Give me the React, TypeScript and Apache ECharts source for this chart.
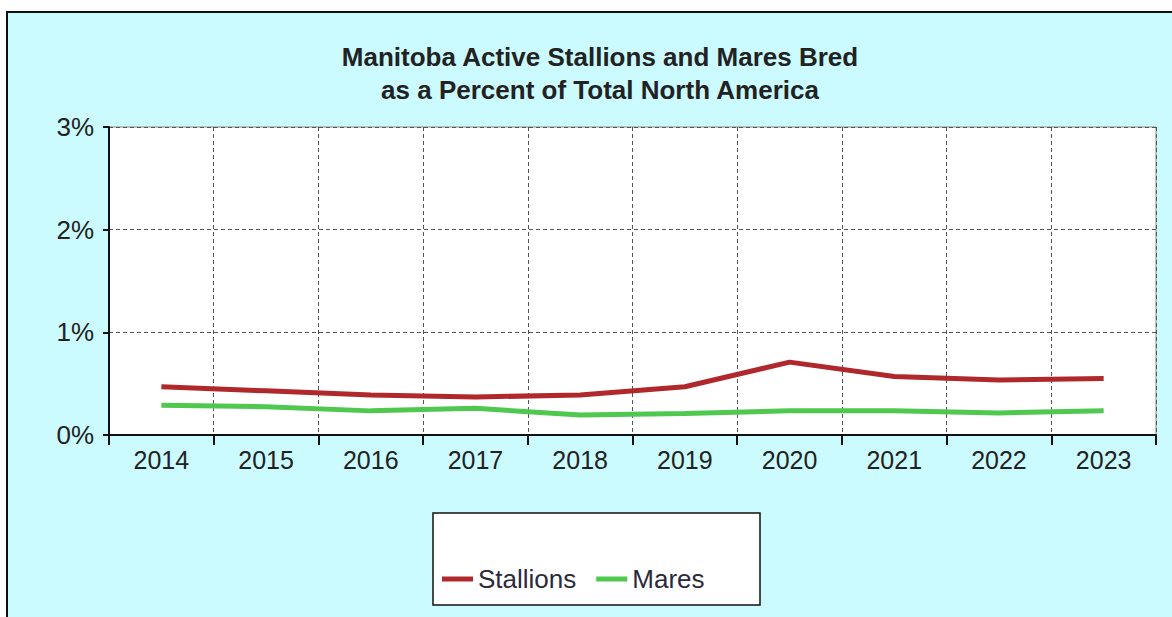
import React, { useEffect, useRef } from "react";
import * as echarts from "echarts";

const years = ["2014", "2015", "2016", "2017", "2018", "2019", "2020", "2021", "2022", "2023"];
const stallions = [0.47, 0.43, 0.39, 0.37, 0.39, 0.47, 0.71, 0.57, 0.535, 0.55];
const mares = [0.29, 0.275, 0.235, 0.26, 0.195, 0.21, 0.235, 0.235, 0.215, 0.235];
const yTicks = [0, 1, 2, 3];
const titleLines = ["Manitoba Active Stallions and Mares Bred", "as a Percent of Total North America"];

const FONT = "'Liberation Sans', Arial, sans-serif";

export default function App() {
  const ref = useRef<HTMLDivElement>(null);
  useEffect(() => {
    if (!ref.current) return;
    const chart = echarts.init(ref.current, undefined, { renderer: "svg" });
    chart.setOption({
      animation: false,
      backgroundColor: "#ffffff",
      textStyle: { fontFamily: FONT },
      graphic: [
        {
          type: "rect",
          z: -10,
          shape: { x: 7, y: 12, width: 1200, height: 700 },
          style: { fill: "#cbfbfe", stroke: "#111", lineWidth: 2 },
        },
        {
          type: "rect",
          z: 1,
          shape: { x: 433, y: 513, width: 327, height: 92 },
          style: { fill: "#ffffff", stroke: "#111", lineWidth: 1.5 },
        },
      ],
      title: {
        text: titleLines.join("\n"),
        left: 595,
        textAlign: "center",
        top: 35,
        textStyle: { fontFamily: FONT, fontSize: 26, fontWeight: "bold", color: "#222", lineHeight: 33 },
      },
      legend: {
        left: 437,
        top: 561,
        itemWidth: 31,
        itemHeight: 5,
        itemGap: 20,
        icon: "rect",
        textStyle: { fontFamily: FONT, fontSize: 26, color: "#2a2a3a", padding: [2, 0, 0, 0] },
        data: ["Stallions", "Mares"],
      },
      grid: {
        left: 109,
        top: 127,
        right: 16,
        bottom: 182,
        show: true,
        backgroundColor: "#ffffff",
        borderColor: "#888",
        borderWidth: 1,
      },
      xAxis: {
        type: "category",
        data: years,
        boundaryGap: true,
        axisLine: { lineStyle: { color: "#111", width: 2 } },
        axisTick: { show: true, length: 10, interval: 0, lineStyle: { color: "#111", width: 2 } },
        axisLabel: { fontFamily: FONT, fontSize: 25, color: "#222", margin: 12, interval: 0 },
        splitLine: { show: true, interval: 0, lineStyle: { color: "#555", width: 1, type: [4, 3] } },
      },
      yAxis: {
        type: "value",
        min: yTicks[0],
        max: yTicks[yTicks.length - 1],
        interval: 1,
        axisLine: { show: true, lineStyle: { color: "#111", width: 2 } },
        axisTick: { show: true, length: 6, lineStyle: { color: "#111", width: 2 } },
        axisLabel: { fontFamily: FONT, fontSize: 26, color: "#222", margin: 15, formatter: "{value}%" },
        splitLine: { show: true, lineStyle: { color: "#555", width: 1, type: [4, 3] } },
      },
      series: [
        {
          name: "Stallions",
          type: "line",
          data: stallions,
          symbol: "none",
          itemStyle: { color: "#b0282c" },
          lineStyle: { color: "#b0282c", width: 5 },
        },
        {
          name: "Mares",
          type: "line",
          data: mares,
          symbol: "none",
          itemStyle: { color: "#4fc84f" },
          lineStyle: { color: "#4fc84f", width: 5 },
        },
      ],
    });
    return () => chart.dispose();
  }, []);
  return <div ref={ref} style={{ position: "fixed", left: 0, top: 0, width: 1172, height: 617 }} />;
}
